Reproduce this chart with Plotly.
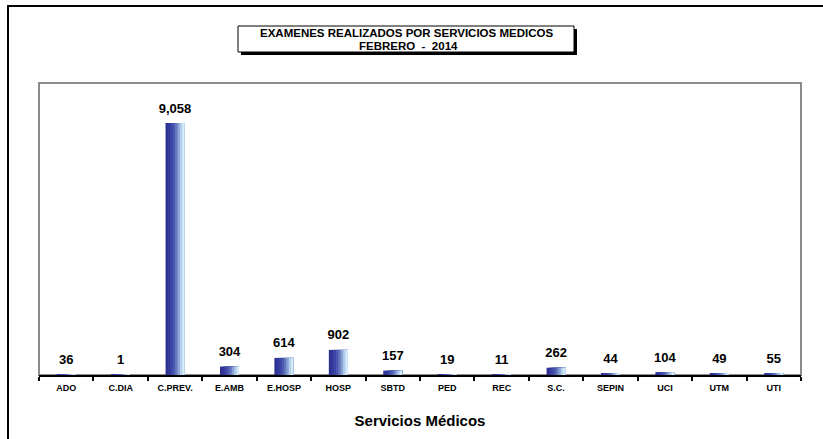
import plotly.graph_objects as go

# Datos del grafico
servicios = ["ADO", "C.DIA", "C.PREV.", "E.AMB", "E.HOSP", "HOSP", "SBTD",
             "PED", "REC", "S.C.", "SEPIN", "UCI", "UTM", "UTI"]
examenes = [36, 1, 9058, 304, 614, 902, 157, 19, 11, 262, 44, 104, 49, 55]

titulo_1 = "EXAMENES REALIZADOS POR SERVICIOS MEDICOS"
titulo_2 = "FEBRERO  -  2014"
eje_x = "Servicios Médicos"

# Gradiente de la barra: de azul oscuro (izq) a celeste (der)
gradient = ["#2e3192", "#333a9c", "#3c45a6", "#4a58b0", "#6478bf",
            "#8aa3d5", "#b2cfec", "#d3ebfb"]
bar_w = 0.35
slice_w = bar_w / len(gradient)

fig = go.Figure()

# cada tramo llega hasta el borde derecho de la barra, el siguiente se pinta encima
for i, col in enumerate(gradient):
    fig.add_trace(go.Bar(
        x=servicios,
        y=examenes,
        width=bar_w - i * slice_w,
        offset=-bar_w / 2 + i * slice_w,
        marker=dict(color=col, line=dict(width=0)),
        showlegend=False,
        hoverinfo="skip",
    ))

# Etiquetas de valores
fig.add_trace(go.Scatter(
    x=servicios,
    y=examenes,
    mode="markers+text",
    marker=dict(size=10, opacity=0),
    text=[f"{v:,}" for v in examenes],
    textposition="top center",
    textfont=dict(family="Liberation Sans", size=13, color="black", weight="bold"),
    showlegend=False,
    hoverinfo="skip",
    cliponaxis=False,
))

L, R, T, B = 39, 22, 83, 64
W, H = 823, 439
pw, ph = W - L - R, H - T - B


def px_x(x):
    return (x - L) / pw


def px_y(y):
    return 1 + (T - y) / ph


shapes = [
    # borde exterior
    dict(type="rect", xref="paper", yref="paper",
         x0=px_x(8), x1=px_x(835), y0=px_y(6), y1=px_y(450),
         line=dict(color="black", width=2), layer="below"),
    # borde del area de trazado
    dict(type="rect", xref="paper", yref="paper",
         x0=0, x1=1, y0=0, y1=1,
         line=dict(color="#8c8c8c", width=2), layer="below"),
    # sombra del titulo
    dict(type="rect", xref="paper", yref="paper",
         x0=px_x(241), x1=px_x(577), y0=px_y(29), y1=px_y(55),
         fillcolor="black", line=dict(width=0)),
    # caja del titulo
    dict(type="rect", xref="paper", yref="paper",
         x0=px_x(238), x1=px_x(574), y0=px_y(26), y1=px_y(52),
         fillcolor="white", line=dict(color="black", width=1)),
]

title_font = dict(family="Liberation Sans", size=11.5, color="black", weight="bold")

fig.update_layout(
    width=W,
    height=H,
    margin=dict(l=L, r=R, t=T, b=B),
    plot_bgcolor="white",
    paper_bgcolor="white",
    barmode="overlay",
    shapes=shapes,
    annotations=[
        dict(text=titulo_1, xref="paper", yref="paper",
             x=px_x(406), y=px_y(33.5), xanchor="center", yanchor="middle",
             showarrow=False, font=title_font),
        dict(text=titulo_2, xref="paper", yref="paper",
             x=px_x(408), y=px_y(46), xanchor="center", yanchor="middle",
             showarrow=False, font=title_font),
    ],
    xaxis=dict(
        type="category",
        range=[-0.5, len(servicios) - 0.5],
        showline=True, linecolor="black", linewidth=2,
        ticks="outside", tickson="boundaries", ticklen=4, tickcolor="black", tickwidth=2,
        ticklabelstandoff=3,
        tickfont=dict(family="Liberation Sans", size=9, color="black", weight="bold"),
        title=dict(text=eje_x, standoff=24,
                   font=dict(family="Liberation Sans", size=15, color="black", weight="bold")),
        showgrid=False,
    ),
    yaxis=dict(
        range=[0, 10500],
        showticklabels=False,
        showgrid=False,
        zeroline=False,
        showline=False,
        ticks="",
    ),
)

fig.write_html(
    "out.html",
    config={"displayModeBar": False},
    post_script="document.body.style.margin='0';document.body.style.overflow='hidden';",
)
